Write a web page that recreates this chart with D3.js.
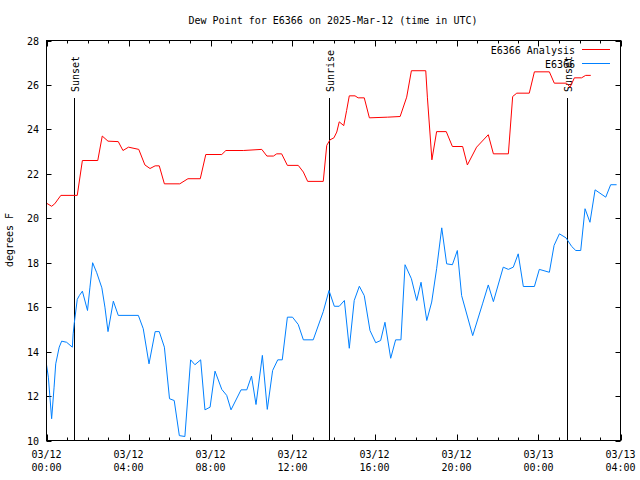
<!DOCTYPE html>
<html>
<head>
<meta charset="utf-8">
<script src="https://cdn.jsdelivr.net/npm/d3@7"></script>
<style>
  html, body { margin: 0; padding: 0; background: #fff; }
  text { font-family: "DejaVu Sans Mono", "Liberation Mono", monospace; font-size: 10px; fill: #000; }
</style>
</head>
<body>
<svg id="chart" width="640" height="480"></svg>
<script>
const titleText = "Dew Point for E6366 on 2025-Mar-12 (time in UTC)";
const yAxisLabel = "degrees F";
const seriesNames = ["E6366 Analysis", "E6366"];
const seriesColors = ["#ff0000", "#0080ff"];

// hours since 2025-03-12 00:00 UTC
const xMajorTicks = [0, 4, 8, 12, 16, 20, 24, 28];
const xTickDates = ["03/12", "03/12", "03/12", "03/12", "03/12", "03/12", "03/13", "03/13"];
const xTickTimes = ["00:00", "04:00", "08:00", "12:00", "16:00", "20:00", "00:00", "04:00"];
const yTicks = [10, 12, 14, 16, 18, 20, 22, 24, 26, 28];

const sunEventNames = ["Sunset", "Sunrise", "Sunset"];
const sunEventHours = [1.34, 13.78, 25.39];

const analysisHours = [0, 0.25, 0.4, 0.7, 1.5, 1.75, 2.5, 2.72, 3.0, 3.5, 3.73, 4.0, 4.5, 4.8, 5.05, 5.3, 5.5, 5.75, 6.5, 6.9, 7.5, 7.77, 8.55, 8.75, 9.6, 10.5, 10.75, 11.07, 11.23, 11.47, 11.75, 12.28, 12.53, 12.74, 13.5, 13.67, 13.83, 14.02, 14.16, 14.28, 14.5, 14.64, 14.77, 15.05, 15.2, 15.5, 15.75, 16.64, 17.25, 17.57, 17.8, 18.5, 18.58, 18.8, 19.03, 19.5, 19.8, 20.3, 20.53, 20.98, 21.55, 21.8, 22.53, 22.74, 22.94, 23.55, 23.8, 24.53, 24.77, 25.37, 25.54, 25.75, 26.1, 26.3, 26.55];
const analysisValues = [20.68, 20.54, 20.65, 21.03, 21.03, 22.6, 22.6, 23.7, 23.47, 23.45, 23.05, 23.2, 23.1, 22.4, 22.24, 22.36, 22.36, 21.55, 21.55, 21.78, 21.78, 22.87, 22.87, 23.05, 23.05, 23.1, 22.8, 22.8, 22.9, 22.9, 22.38, 22.38, 22.08, 21.66, 21.66, 23.28, 23.53, 23.62, 23.88, 24.34, 24.17, 24.85, 25.51, 25.51, 25.42, 25.42, 24.52, 24.55, 24.58, 25.45, 26.64, 26.64, 25.45, 22.63, 23.9, 23.9, 23.23, 23.23, 22.4, 23.2, 23.76, 22.9, 22.9, 25.48, 25.63, 25.63, 26.59, 26.59, 26.08, 26.08, 25.9, 26.32, 26.32, 26.43, 26.43];

const obsHours = [0, 0.09, 0.25, 0.37, 0.45, 0.62, 0.74, 0.98, 1.26, 1.3, 1.35, 1.5, 1.6, 1.75, 2.0, 2.12, 2.25, 2.45, 2.7, 2.85, 3.0, 3.26, 3.5, 4.48, 4.72, 5.0, 5.3, 5.5, 5.75, 6.0, 6.23, 6.48, 6.75, 7.03, 7.24, 7.52, 7.73, 7.98, 8.22, 8.55, 8.79, 9.0, 9.49, 9.77, 10.0, 10.22, 10.53, 10.77, 11.03, 11.28, 11.5, 11.75, 12.0, 12.28, 12.53, 13.01, 13.5, 13.78, 14.04, 14.28, 14.53, 14.77, 15.01, 15.26, 15.5, 15.78, 16.06, 16.3, 16.51, 16.79, 17.03, 17.29, 17.49, 17.8, 18.06, 18.27, 18.55, 18.79, 19.03, 19.28, 19.52, 19.8, 20.04, 20.25, 20.79, 21.28, 21.55, 21.8, 22.28, 22.53, 22.77, 23.01, 23.26, 23.8, 24.04, 24.53, 24.76, 25.02, 25.34, 25.62, 25.82, 26.06, 26.27, 26.51, 26.76, 27.28, 27.52, 27.81];
const obsValues = [13.41, 12.85, 10.98, 12.4, 13.45, 14.2, 14.47, 14.42, 14.2, 14.8, 15.25, 16.35, 16.52, 16.72, 15.85, 16.9, 18.0, 17.55, 16.87, 16.0, 14.9, 16.27, 15.63, 15.63, 15.03, 13.45, 14.9, 14.9, 14.2, 11.88, 11.8, 10.22, 10.18, 13.63, 13.41, 13.63, 11.38, 11.5, 13.12, 12.3, 12.03, 11.38, 12.28, 12.28, 12.9, 11.62, 13.83, 11.4, 13.15, 13.63, 13.63, 15.55, 15.55, 15.22, 14.53, 14.53, 15.8, 16.75, 16.04, 16.04, 16.3, 14.15, 16.3, 16.94, 16.52, 14.95, 14.4, 14.5, 15.32, 13.7, 14.53, 14.53, 17.91, 17.28, 16.3, 17.12, 15.4, 16.23, 17.73, 19.57, 17.95, 17.91, 18.55, 16.52, 14.72, 16.18, 17.0, 16.25, 17.8, 17.7, 17.8, 18.4, 16.93, 16.93, 17.7, 17.57, 18.78, 19.3, 19.12, 18.73, 18.55, 18.55, 20.43, 19.82, 21.28, 20.95, 21.51, 21.51];

const svg = d3.select("#chart");
const margin = { left: 46.5, right: 19.5, top: 40.5, bottom: 39.5 };
const W = 640, H = 480;
const x = d3.scaleLinear().domain([0, 28]).range([margin.left, W - margin.right]);
const y = d3.scaleLinear().domain([10, 28]).range([H - margin.bottom, margin.top]);

// title
svg.append("text").attr("x", 333).attr("y", 24).attr("text-anchor", "middle").text(titleText);

// y label
svg.append("text").attr("transform", "translate(13,240) rotate(-90)").attr("text-anchor", "middle").text(yAxisLabel);

const g = svg.append("g");
const minorTicks = d3.range(0, 29);

// x ticks bottom and top
g.selectAll(".xt").data(minorTicks).enter().append("line")
  .attr("x1", d => Math.round(x(d)) + 0.5).attr("x2", d => Math.round(x(d)) + 0.5)
  .attr("y1", y(10)).attr("y2", d => y(10) - (d % 4 === 0 ? 6 : 3))
  .attr("stroke", "#000");
g.selectAll(".xtt").data(minorTicks).enter().append("line")
  .attr("x1", d => Math.round(x(d)) + 0.5).attr("x2", d => Math.round(x(d)) + 0.5)
  .attr("y1", y(28)).attr("y2", d => y(28) + (d % 4 === 0 ? 6 : 3))
  .attr("stroke", "#000");
// y ticks left/right
g.selectAll(".yt").data(yTicks).enter().append("line")
  .attr("x1", x(0)).attr("x2", x(0) + 5)
  .attr("y1", d => Math.round(y(d)) + 0.5).attr("y2", d => Math.round(y(d)) + 0.5)
  .attr("stroke", "#000");
g.selectAll(".ytr").data(yTicks).enter().append("line")
  .attr("x1", x(28)).attr("x2", x(28) - 5)
  .attr("y1", d => Math.round(y(d)) + 0.5).attr("y2", d => Math.round(y(d)) + 0.5)
  .attr("stroke", "#000");

// y tick labels
g.selectAll(".yl").data(yTicks).enter().append("text")
  .attr("x", 39).attr("y", d => y(d) + 4).attr("text-anchor", "end").text(d => d);

// x tick labels
xMajorTicks.forEach((h, i) => {
  g.append("text").attr("x", x(h)).attr("y", 458).attr("text-anchor", "middle").text(xTickDates[i]);
  g.append("text").attr("x", x(h)).attr("y", 471).attr("text-anchor", "middle").text(xTickTimes[i]);
});

// sun events
sunEventHours.forEach((h, i) => {
  const xx = Math.round(x(h)) + 0.5;
  g.append("line").attr("x1", xx).attr("x2", xx).attr("y1", 98).attr("y2", y(10)).attr("stroke", "#000");
  g.append("text").attr("transform", `translate(${xx + 4},92) rotate(-90)`).attr("text-anchor", "start").text(sunEventNames[i]);
});

// series
const line = d3.line().x(d => x(d[0])).y(d => y(d[1]));
const analysis = analysisHours.map((h, i) => [h, analysisValues[i]]);
const obs = obsHours.map((h, i) => [h, obsValues[i]]);
g.append("path").attr("d", line(analysis)).attr("fill", "none").attr("stroke", seriesColors[0]).attr("stroke-width", 1);
g.append("path").attr("d", line(obs)).attr("fill", "none").attr("stroke", seriesColors[1]).attr("stroke-width", 1);

// frame
g.append("rect").attr("x", x(0)).attr("y", y(28)).attr("width", x(28) - x(0)).attr("height", y(10) - y(28))
  .attr("fill", "none").attr("stroke", "#000");

// legend
seriesNames.forEach((n, i) => {
  const ly = 49.5 + i * 14;
  g.append("text").attr("x", 575).attr("y", ly + 4).attr("text-anchor", "end").text(n);
  g.append("line").attr("x1", 582).attr("x2", 610).attr("y1", ly).attr("y2", ly).attr("stroke", seriesColors[i]);
});
</script>
</body>
</html>
